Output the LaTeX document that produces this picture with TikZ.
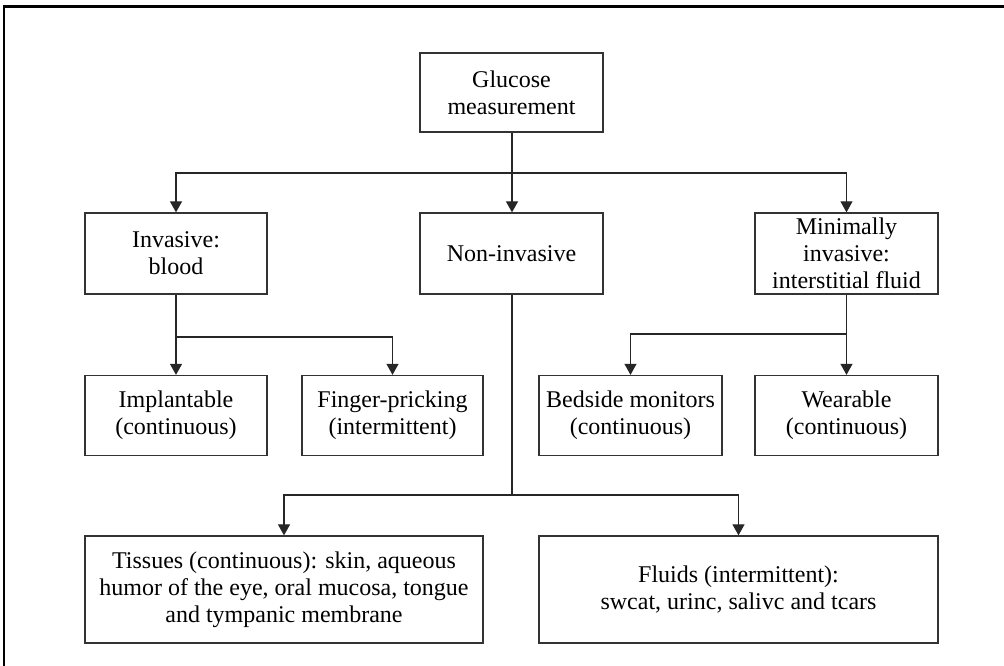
\documentclass[tikz,border=0pt]{standalone}
\usepackage{fontspec}
\setmainfont{Liberation Serif}
\usetikzlibrary{arrows.meta}
\begin{document}
\begin{tikzpicture}[x=1pt,y=-1pt,
  box/.style={draw=black!80,line width=1.3pt,inner sep=0pt,align=center,
    font=\fontsize{24}{27}\selectfont},
  conn/.style={draw=black!85,line width=1.1pt},
  arr/.style={conn,-{Triangle[width=12pt,length=11pt]}}]
\useasboundingbox (0,0) rectangle (1004,666);
\draw[line width=2.5pt] (4,666) -- (4,6.5) -- (1004,6.5);
\node[box,minimum width=183,minimum height=79] (glu) at (511.5,92.5) {Glucose\\measurement};
\node[box,minimum width=182,minimum height=81] (inv) at (176,253.5) {Invasive:\\blood};
\node[box,minimum width=183,minimum height=81] (non) at (511.5,253.5) {Non-invasive};
\node[box,minimum width=183,minimum height=81] (min) at (846.5,253.5) {Minimally\\invasive:\\interstitial fluid};
\node[box,minimum width=182,minimum height=80] (imp) at (176,415.5) {Implantable\\(continuous)};
\node[box,minimum width=181,minimum height=80] (fin) at (392.5,415.5) {Finger-pricking\\(intermittent)};
\node[box,minimum width=183,minimum height=80] (bed) at (630.5,415.5) {Bedside monitors\\(continuous)};
\node[box,minimum width=183,minimum height=80] (wea) at (846.5,415.5) {Wearable\\(continuous)};
\node[box,minimum width=398,minimum height=107] (tis) at (284,589.5) {Tissues (continuous): skin, aqueous\\humor of the eye, oral mucosa, tongue\\and tympanic membrane};
\node[box,minimum width=399,minimum height=107] (flu) at (738.5,589.5) {Fluids (intermittent):\\swcat, urinc, salivc and tcars};
% top level
\coordinate (h1) at (512,173);
\draw[arr] (glu.south -| h1) -- (non.north -| h1);
\draw[arr] (h1) -| (inv.north);
\draw[arr] (h1) -| (min.north);
% invasive
\coordinate (h2) at (176,337);
\draw[arr] (inv.south) -- (imp.north);
\draw[arr] (h2) -| (fin.north);
% minimally invasive
\coordinate (h3) at (847,334);
\draw[arr] (min.south) -- (wea.north);
\draw[arr] (h3) -| (bed.north);
% non-invasive
\coordinate (h4) at (512,495);
\draw[conn] (non.south -| h4) -- (h4);
\draw[arr] (h4) -| (tis.north);
\draw[arr] (h4) -| (flu.north);
\end{tikzpicture}
\end{document}
